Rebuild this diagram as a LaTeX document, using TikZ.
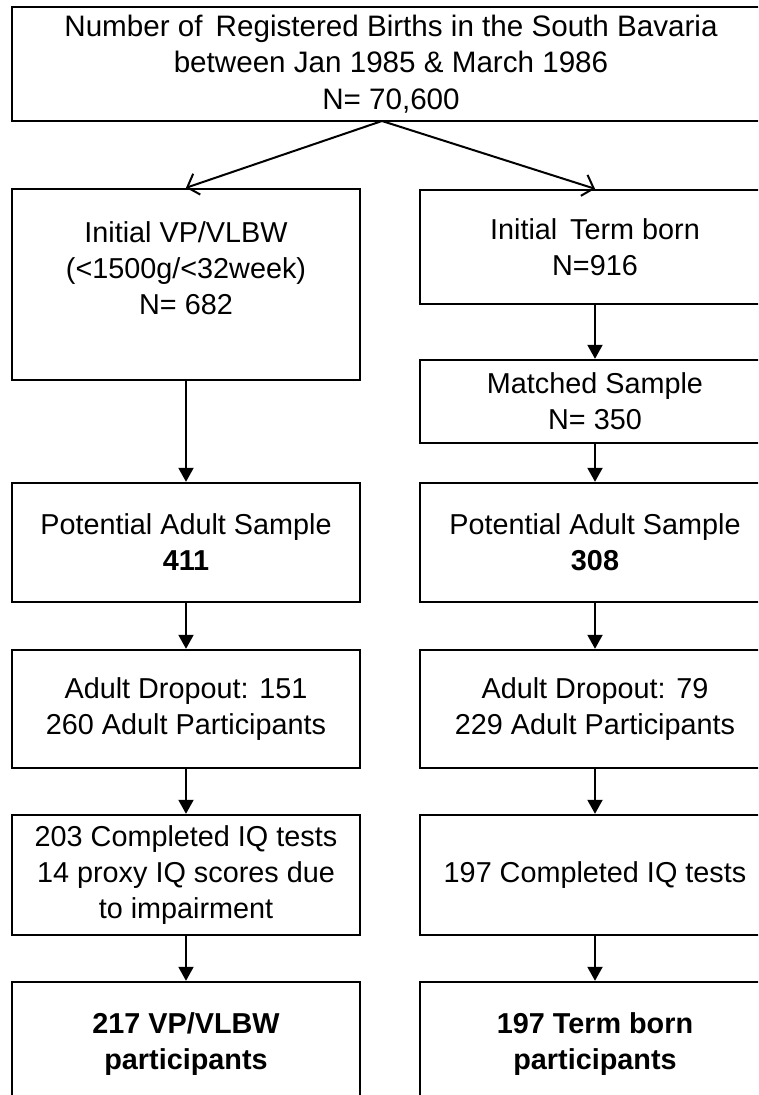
\documentclass[tikz,border=0pt]{standalone}
\usepackage{fontspec}
\setmainfont{Liberation Sans}
\usetikzlibrary{arrows.meta}

\begin{document}
\begin{tikzpicture}[x=1pt,y=-1pt,
  box/.style={draw=black, line width=2.4pt, rectangle, inner sep=0pt,
              align=center, font=\fontsize{28.8}{36}\selectfont},
  lbox/.style={box, minimum width=348pt},
  rbox/.style={box, minimum width=350pt},
  txt/.style={align=center, inner sep=0pt, font=\fontsize{28.8}{36}\selectfont},
  flow/.style={-{Triangle[length=14pt,width=15pt]}, line width=2pt},
  split/.style={-{Straight Barb[length=10pt,width=22pt,line width=2pt]}, line width=2pt}]

\useasboundingbox (0,0) rectangle (758,1095);
\clip (0,0) rectangle (758,1095);

% source population
\node[box, minimum width=758pt, minimum height=114pt, font=\fontsize{29.6}{36.5}\selectfont] (top) at (391,64)
  {Number of\, Registered Births in the South Bavaria\\between Jan 1985 \& March 1986\\N= 70,600};

% left column: very preterm / very low birth weight
\node[lbox, minimum height=191pt] (l1) at (186,284.5) {};
\node[txt] (l1t) at (186,268) {Initial VP/VLBW\\(<1500g/<32week)\\N= 682};
\node[lbox, minimum height=119pt] (lp) at (186,542.5) {Potential Adult Sample\\\textbf{411}};
\node[lbox, minimum height=118pt] (ld) at (186,709) {Adult Dropout: 151\\260 Adult Participants};
\node[lbox, minimum height=120pt] (li) at (186,875) {203 Completed IQ tests\\14 proxy IQ scores due\\to impairment};
\node[lbox, minimum height=125pt] (lf) at (186,1044.5) {\textbf{217 VP/VLBW}\\\textbf{participants}};

% right column: term-born controls
\node[rbox, minimum height=114pt] (r1) at (595,247) {Initial\, Term born\\N=916};
\node[rbox, minimum height=83pt] (rm) at (595,401.5) {Matched Sample\\N= 350};
\node[rbox, minimum height=119pt] (rp) at (595,542.5) {Potential Adult Sample\\\textbf{308}};
\node[rbox, minimum height=118pt] (rd) at (595,709) {Adult Dropout: 79\\229 Adult Participants};
\node[rbox, minimum height=120pt] (ri) at (595,875) {197 Completed IQ tests};
\node[rbox, minimum height=125pt] (rf) at (595,1044.5) {\textbf{197 Term born}\\\textbf{participants}};

% connectors
\coordinate (fork) at (382,121);
\draw[split] (fork) -- (l1.north);
\draw[split] (fork) -- (r1.north);

\draw[flow] (l1) -- (lp);
\draw[flow] (lp) -- (ld);
\draw[flow] (ld) -- (li);
\draw[flow] (li) -- (lf);

\draw[flow] (r1) -- (rm);
\draw[flow] (rm) -- (rp);
\draw[flow] (rp) -- (rd);
\draw[flow] (rd) -- (ri);
\draw[flow] (ri) -- (rf);
\end{tikzpicture}
\end{document}
